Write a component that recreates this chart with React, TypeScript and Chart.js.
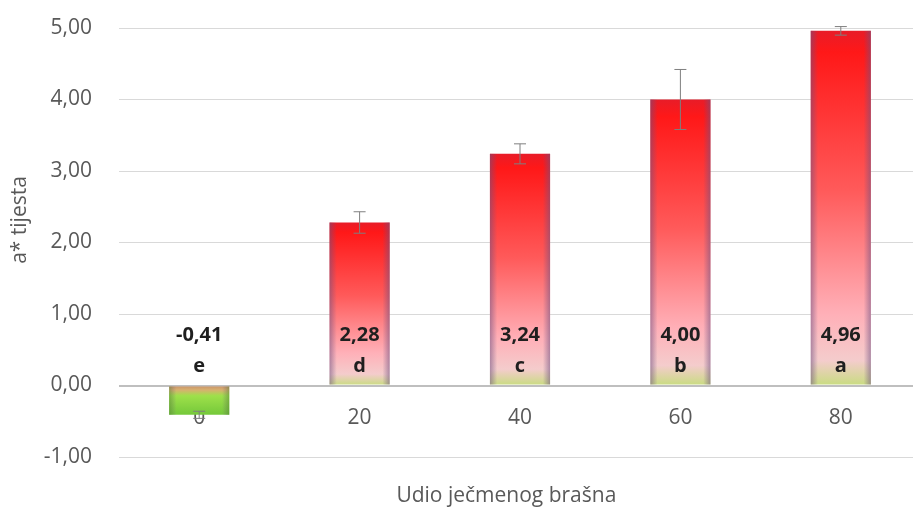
import React, { useEffect, useRef } from "react";
import { Chart, registerables } from "chart.js";

Chart.register(...registerables);

const categories = ["0", "20", "40", "60", "80"];
const values = [-0.41, 2.28, 3.24, 4.0, 4.96];
const errors = [0.05, 0.15, 0.14, 0.42, 0.06];
const letters = ["e", "d", "c", "b", "a"];
const yTicks = [-1, 0, 1, 2, 3, 4, 5];
const yTitle = "a* tijesta";
const xTitle = "Udio ječmenog brašna";

const FONT = "'Open Sans', 'DejaVu Sans', sans-serif";
const fmt = (v: number) => v.toFixed(2).replace(".", ",");

function barFill(context: any) {
  const chart = context.chart;
  const ys = chart.scales && chart.scales.y;
  const v = context.raw as number;
  if (!ys || typeof v !== "number") return "#ff3030";
  const c = chart.ctx as CanvasRenderingContext2D;
  const top = ys.getPixelForValue(Math.max(v, 0));
  const bot = ys.getPixelForValue(Math.min(v, 0));
  if (!isFinite(top) || !isFinite(bot) || bot - top < 1) return "#ff3030";
  const g = c.createLinearGradient(0, top, 0, bot);
  if (v >= 0) {
    g.addColorStop(0, "#e81c28");
    g.addColorStop(0.06, "#ff1818");
    g.addColorStop(0.45, "#ff5a5a");
    g.addColorStop(0.8, "#ffb0b8");
    g.addColorStop(0.93, "#f4cccc");
    g.addColorStop(1, "#c8dc80");
  } else {
    g.addColorStop(0, "#c89068");
    g.addColorStop(0.15, "#d8b070");
    g.addColorStop(0.35, "#9ee04a");
    g.addColorStop(1, "#74c83a");
  }
  return g;
}

const overlayPlugin = {
  id: "overlayPlugin",
  afterDatasetsDraw(chart: any) {
    const c = chart.ctx as CanvasRenderingContext2D;
    const ys = chart.scales.y;
    const meta = chart.getDatasetMeta(0);
    const y0 = ys.getPixelForValue(0);
    meta.data.forEach((bar: any, i: number) => {
      const w = bar.width;
      const left = bar.x - w / 2;
      const top = Math.min(bar.y, bar.base);
      const h = Math.abs(bar.base - bar.y);
      const pos = values[i] >= 0;
      const g = c.createLinearGradient(left, 0, left + w, 0);
      const edge = pos ? "rgba(110,80,130,0.55)" : "rgba(70,120,40,0.45)";
      g.addColorStop(0, edge);
      g.addColorStop(0.12, "rgba(110,80,130,0)");
      g.addColorStop(0.88, "rgba(110,80,130,0)");
      g.addColorStop(1, edge);
      c.save();
      c.fillStyle = g;
      c.fillRect(left, top, w, h);
      c.restore();

      const v = values[i];
      const e = errors[i];
      const yHi = ys.getPixelForValue(v + e);
      const yLo = ys.getPixelForValue(v - e);
      c.save();
      c.strokeStyle = "#7f7f7f";
      c.lineWidth = 1;
      c.beginPath();
      c.moveTo(bar.x, yHi);
      c.lineTo(bar.x, yLo);
      c.moveTo(bar.x - 6, yHi);
      c.lineTo(bar.x + 6, yHi);
      c.moveTo(bar.x - 6, yLo);
      c.lineTo(bar.x + 6, yLo);
      c.stroke();
      c.restore();

      c.save();
      c.fillStyle = "#1f1f1f";
      c.font = `bold 20px ${FONT}`;
      c.textAlign = "center";
      c.textBaseline = "middle";
      c.fillText(fmt(v), bar.x, y0 - 50);
      c.fillText(letters[i], bar.x, y0 - 19);
      c.restore();
    });
  },
  afterDraw(chart: any) {
    const c = chart.ctx as CanvasRenderingContext2D;
    const area = chart.chartArea;
    c.save();
    c.fillStyle = "#595959";
    c.font = `21px ${FONT}`;
    c.textAlign = "center";
    c.textBaseline = "middle";
    c.fillText(xTitle, area.left + (area.right - area.left) * 0.483, 496);
    c.translate(20, 220);
    c.rotate(-Math.PI / 2);
    c.fillText(yTitle, 0, 0);
    c.restore();
  },
};

export default function App() {
  const ref = useRef<HTMLCanvasElement | null>(null);
  useEffect(() => {
    if (!ref.current) return;
    const chart = new Chart(ref.current, {
      type: "bar",
      data: {
        labels: categories,
        datasets: [
          {
            data: values,
            backgroundColor: barFill as any,
            borderWidth: 0,
            categoryPercentage: 1,
            barPercentage: 0.375,
          },
        ],
      },
      options: {
        animation: false,
        responsive: true,
        maintainAspectRatio: false,
        layout: { padding: { top: 28, right: 9, left: 0, bottom: 54 } },
        plugins: {
          legend: { display: false },
          tooltip: { enabled: false },
          title: { display: false },
        },
        scales: {
          x: {
            position: { y: 0 } as any,
            z: 1,
            grid: { display: false, drawTicks: false },
            border: { display: false },
            ticks: {
              color: "#595959",
              padding: 20,
              font: { family: FONT, size: 21 },
            },
            afterFit: (s: any) => {
              s.height = 0;
            },
          },
          y: {
            min: -1,
            max: 5,
            afterBuildTicks: (s: any) => {
              s.ticks = yTicks.map((v) => ({ value: v }));
            },
            grid: {
              drawTicks: false,
              color: (ctx: any) => (ctx.tick && ctx.tick.value === 0 ? "#bfbfbf" : "#d9d9d9"),
              lineWidth: (ctx: any) => (ctx.tick && ctx.tick.value === 0 ? 2 : 1),
            },
            border: { display: false },
            ticks: {
              color: "#595959",
              padding: 27,
              font: { family: FONT, size: 21 },
              callback: (v: any) => fmt(Number(v)),
            },
            afterFit: (s: any) => {
              s.width = 119;
              s.paddingTop = 0;
            },
          },
        },
      },
      plugins: [overlayPlugin],
    });
    return () => chart.destroy();
  }, []);
  return (
    <div style={{ position: "fixed", left: 0, top: 0, width: 913, height: 511, overflow: "hidden", background: "#fff" }}>
      <div style={{ position: "relative", width: 930, height: 511 }}>
        <canvas ref={ref} />
      </div>
    </div>
  );
}
